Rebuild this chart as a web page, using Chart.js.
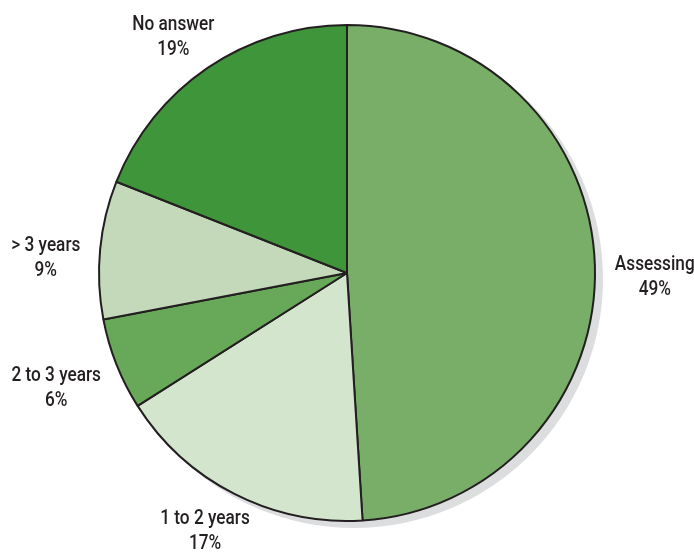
<!DOCTYPE html>
<html>
<head>
<meta charset="utf-8">
<script src="https://cdn.jsdelivr.net/npm/chart.js@4/dist/chart.umd.min.js"></script>
<style>
html,body{margin:0;padding:0;background:#fff;}
#wrap{width:694px;height:555px;position:relative;}
</style>
</head>
<body>
<div id="wrap"><canvas id="c" width="694" height="555"></canvas></div>
<script>
const categories = ["Assessing", "1 to 2 years", "2 to 3 years", "> 3 years", "No answer"];
const shares = [49, 17, 6, 9, 19];
const sliceColors = ["#79AE69", "#D4E5CE", "#67A859", "#C3D9B9", "#3F9539"];

const FONT = "Roboto, 'Liberation Sans', sans-serif";
const SX = 0.82;

const shadowPlugin = {
  id: 'pieShadow',
  beforeDatasetsDraw(chart) {
    const arc = chart.getDatasetMeta(0).data[0];
    if (!arc) return;
    const ctx = chart.ctx;
    ctx.save();
    ctx.fillStyle = '#DCDDDF';
    ctx.beginPath();
    ctx.arc(arc.x + 7, arc.y + 6, arc.outerRadius + 1, 0, Math.PI * 2);
    ctx.fill();
    ctx.restore();
  }
};

const labelPlugin = {
  id: 'outLabels',
  afterDatasetsDraw(chart) {
    const ctx = chart.ctx;
    const meta = chart.getDatasetMeta(0);
    const data = chart.data.datasets[0].data;
    const total = data.reduce((a, b) => a + b, 0);
    ctx.save();
    ctx.font = '500 21px ' + FONT;
    ctx.fillStyle = '#231F20';
    ctx.textAlign = 'center';
    ctx.textBaseline = 'middle';
    const lineH = 25, blockH = 40, gap = 20, sideDrop = 14;
    meta.data.forEach((arc, i) => {
      const mid = (arc.startAngle + arc.endAngle) / 2;
      const dx = Math.cos(mid), dy = Math.sin(mid);
      const name = chart.data.labels[i];
      const pct = Math.round(data[i] / total * 100) + '%';
      const w = SX * Math.max(ctx.measureText(name).width, ctx.measureText(pct).width);
      const r = arc.outerRadius + gap;
      const cx = arc.x + dx * r + dx * w / 2;
      const cy = arc.y + dy * r + dy * blockH / 2 + sideDrop * (1 - Math.abs(dy));
      ctx.save();
      ctx.translate(cx, cy);
      ctx.scale(SX, 1);
      ctx.fillText(name, 0, -lineH / 2);
      ctx.fillText(pct, 0, lineH / 2);
      ctx.restore();
    });
    ctx.restore();
  }
};

new Chart(document.getElementById('c'), {
  type: 'pie',
  data: {
    labels: categories,
    datasets: [{
      data: shares,
      backgroundColor: sliceColors,
      borderColor: '#231F20',
      borderWidth: 2
    }]
  },
  options: {
    responsive: false,
    animation: false,
    layout: { padding: { top: 24, bottom: 33, left: 98, right: 98 } },
    plugins: {
      legend: { display: false },
      tooltip: { enabled: false }
    }
  },
  plugins: [shadowPlugin, labelPlugin]
});
</script>
</body>
</html>
